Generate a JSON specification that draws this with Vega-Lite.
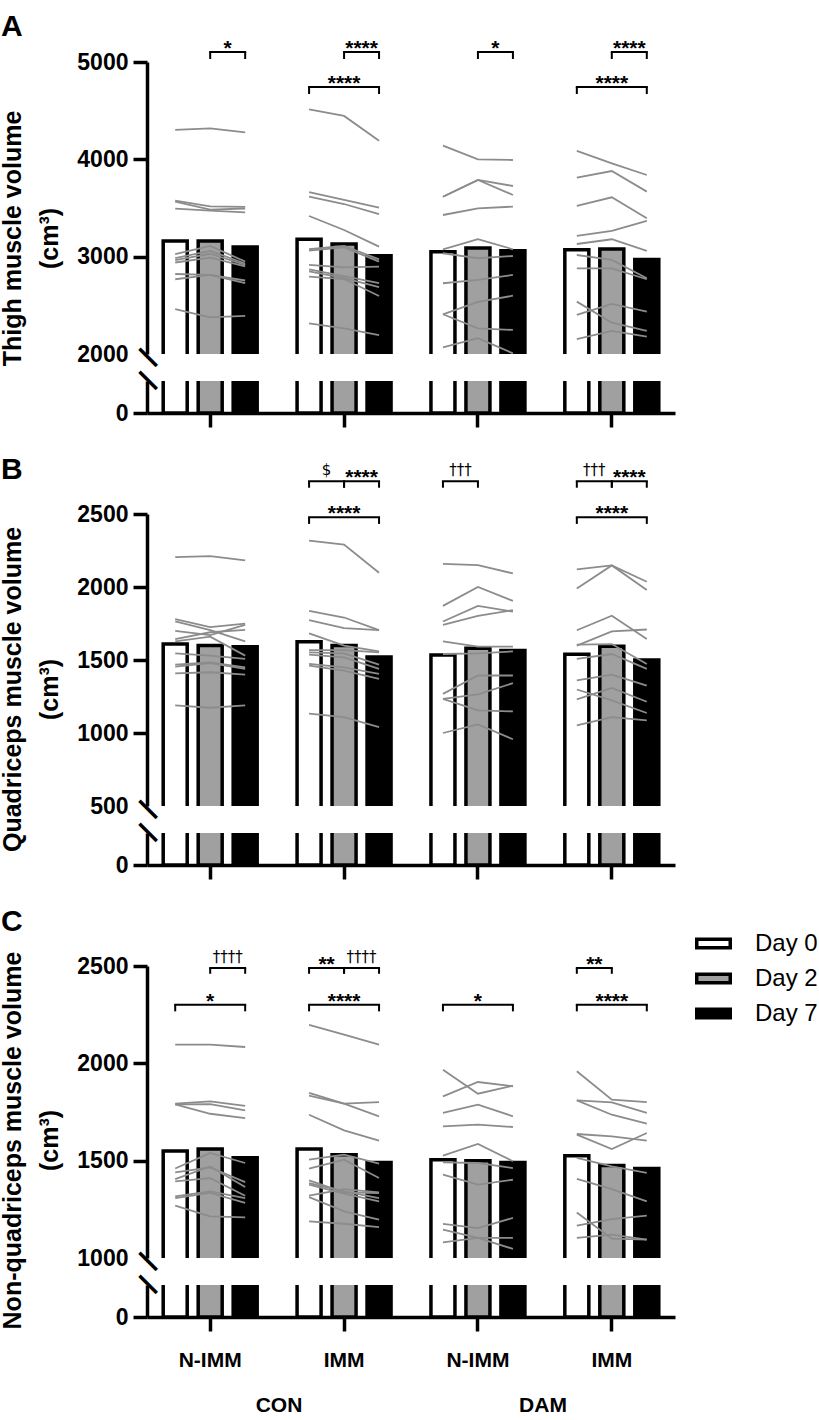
{
"$schema":"https://vega.github.io/schema/vega-lite/v6.json",
"autosize":{"type":"pad"},
"padding":{"left":0,"top":11,"right":2,"bottom":5},
"background":"white",
"config":{
 "view":{"stroke":null},
 "font":"Liberation Sans",
 "axis":{"domainColor":"black","domainWidth":3.5,"tickColor":"black","tickWidth":3.5,"tickSize":14,"labelColor":"black","labelFont":"Liberation Sans","labelFontWeight":"bold","labelFontSize":23,"labelPadding":5,"titleColor":"black","titleFont":"Liberation Sans","titleFontWeight":"bold","titleFontSize":25,"grid":false},
 "title":{"anchor":"start","frame":"group","fontSize":30,"fontWeight":"bold","color":"black","font":"Liberation Sans","dx":-146},
 "legend":{"orient":"none","legendX":548,"legendY":863,"title":null,"padding":0,"labelFont":"Liberation Sans","labelFontSize":24,"labelColor":"black","symbolType":"M-1,-0.254H1V0.254H-1Z","symbolSize":1122,"symbolStrokeColor":"black","symbolStrokeWidth":3.5,"rowPadding":4,"labelOffset":23}
},
"datasets":{
 "bars":[
  {"p":"A","g":"CON N-IMM","Day 0":3160,"Day 2":3160,"Day 7":3100},
  {"p":"A","g":"CON IMM","Day 0":3180,"Day 2":3130,"Day 7":3010},
  {"p":"A","g":"DAM N-IMM","Day 0":3050,"Day 2":3090,"Day 7":3060},
  {"p":"A","g":"DAM IMM","Day 0":3070,"Day 2":3080,"Day 7":2970},
  {"p":"B","g":"CON N-IMM","Day 0":1610,"Day 2":1600,"Day 7":1590},
  {"p":"B","g":"CON IMM","Day 0":1625,"Day 2":1600,"Day 7":1520},
  {"p":"B","g":"DAM N-IMM","Day 0":1535,"Day 2":1580,"Day 7":1565},
  {"p":"B","g":"DAM IMM","Day 0":1540,"Day 2":1595,"Day 7":1500},
  {"p":"C","g":"CON N-IMM","Day 0":1550,"Day 2":1560,"Day 7":1515},
  {"p":"C","g":"CON IMM","Day 0":1560,"Day 2":1530,"Day 7":1490},
  {"p":"C","g":"DAM N-IMM","Day 0":1505,"Day 2":1500,"Day 7":1490},
  {"p":"C","g":"DAM IMM","Day 0":1525,"Day 2":1475,"Day 7":1460}
 ],
 "lines":[
  {"p":"A","g":"CON N-IMM","s":1,"Day 0":4303,"Day 2":4318,"Day 7":4276},
  {"p":"A","g":"CON N-IMM","s":2,"Day 0":3576,"Day 2":3517,"Day 7":3511},
  {"p":"A","g":"CON N-IMM","s":3,"Day 0":3566,"Day 2":3483,"Day 7":3495},
  {"p":"A","g":"CON N-IMM","s":4,"Day 0":3493,"Day 2":3473,"Day 7":3456},
  {"p":"A","g":"CON N-IMM","s":5,"Day 0":3025,"Day 2":3110,"Day 7":2950},
  {"p":"A","g":"CON N-IMM","s":6,"Day 0":2985,"Day 2":3060,"Day 7":2930},
  {"p":"A","g":"CON N-IMM","s":7,"Day 0":2965,"Day 2":3030,"Day 7":2915},
  {"p":"A","g":"CON N-IMM","s":8,"Day 0":2940,"Day 2":2990,"Day 7":2900},
  {"p":"A","g":"CON N-IMM","s":9,"Day 0":2822,"Day 2":2812,"Day 7":2755},
  {"p":"A","g":"CON N-IMM","s":10,"Day 0":2768,"Day 2":2812,"Day 7":2727},
  {"p":"A","g":"CON N-IMM","s":11,"Day 0":2460,"Day 2":2377,"Day 7":2391},
  {"p":"A","g":"CON IMM","s":1,"Day 0":4514,"Day 2":4446,"Day 7":4192},
  {"p":"A","g":"CON IMM","s":2,"Day 0":3662,"Day 2":3583,"Day 7":3503},
  {"p":"A","g":"CON IMM","s":3,"Day 0":3616,"Day 2":3541,"Day 7":3436},
  {"p":"A","g":"CON IMM","s":4,"Day 0":3418,"Day 2":3274,"Day 7":3103},
  {"p":"A","g":"CON IMM","s":5,"Day 0":3076,"Day 2":3110,"Day 7":2973},
  {"p":"A","g":"CON IMM","s":6,"Day 0":3062,"Day 2":3096,"Day 7":2949},
  {"p":"A","g":"CON IMM","s":7,"Day 0":2915,"Day 2":2891,"Day 7":2897},
  {"p":"A","g":"CON IMM","s":8,"Day 0":2870,"Day 2":2800,"Day 7":2727},
  {"p":"A","g":"CON IMM","s":9,"Day 0":2850,"Day 2":2780,"Day 7":2686},
  {"p":"A","g":"CON IMM","s":10,"Day 0":2794,"Day 2":2770,"Day 7":2596},
  {"p":"A","g":"CON IMM","s":11,"Day 0":2315,"Day 2":2264,"Day 7":2195},
  {"p":"A","g":"DAM N-IMM","s":1,"Day 0":4140,"Day 2":4000,"Day 7":3993},
  {"p":"A","g":"DAM N-IMM","s":2,"Day 0":3616,"Day 2":3788,"Day 7":3726},
  {"p":"A","g":"DAM N-IMM","s":3,"Day 0":3616,"Day 2":3788,"Day 7":3634},
  {"p":"A","g":"DAM N-IMM","s":4,"Day 0":3428,"Day 2":3497,"Day 7":3514},
  {"p":"A","g":"DAM N-IMM","s":5,"Day 0":3076,"Day 2":3179,"Day 7":3076},
  {"p":"A","g":"DAM N-IMM","s":6,"Day 0":3035,"Day 2":2984,"Day 7":3007},
  {"p":"A","g":"DAM N-IMM","s":7,"Day 0":2727,"Day 2":2761,"Day 7":2812},
  {"p":"A","g":"DAM N-IMM","s":8,"Day 0":2408,"Day 2":2535,"Day 7":2599},
  {"p":"A","g":"DAM N-IMM","s":9,"Day 0":2408,"Day 2":2264,"Day 7":2247},
  {"p":"A","g":"DAM N-IMM","s":10,"Day 0":2069,"Day 2":2162,"Day 7":2007},
  {"p":"A","g":"DAM IMM","s":1,"Day 0":4086,"Day 2":3959,"Day 7":3839},
  {"p":"A","g":"DAM IMM","s":2,"Day 0":3812,"Day 2":3880,"Day 7":3668},
  {"p":"A","g":"DAM IMM","s":3,"Day 0":3521,"Day 2":3610,"Day 7":3394},
  {"p":"A","g":"DAM IMM","s":4,"Day 0":3213,"Day 2":3264,"Day 7":3367},
  {"p":"A","g":"DAM IMM","s":5,"Day 0":3130,"Day 2":3179,"Day 7":3059},
  {"p":"A","g":"DAM IMM","s":6,"Day 0":3017,"Day 2":2966,"Day 7":2778},
  {"p":"A","g":"DAM IMM","s":7,"Day 0":2880,"Day 2":2880,"Day 7":2768},
  {"p":"A","g":"DAM IMM","s":8,"Day 0":2538,"Day 2":2322,"Day 7":2237},
  {"p":"A","g":"DAM IMM","s":9,"Day 0":2401,"Day 2":2514,"Day 7":2435},
  {"p":"A","g":"DAM IMM","s":10,"Day 0":2154,"Day 2":2237,"Day 7":2178},
  {"p":"B","g":"CON N-IMM","s":1,"Day 0":2205,"Day 2":2212,"Day 7":2182},
  {"p":"B","g":"CON N-IMM","s":2,"Day 0":1780,"Day 2":1725,"Day 7":1749},
  {"p":"B","g":"CON N-IMM","s":3,"Day 0":1764,"Day 2":1705,"Day 7":1627},
  {"p":"B","g":"CON N-IMM","s":4,"Day 0":1700,"Day 2":1670,"Day 7":1740},
  {"p":"B","g":"CON N-IMM","s":5,"Day 0":1643,"Day 2":1690,"Day 7":1706},
  {"p":"B","g":"CON N-IMM","s":6,"Day 0":1627,"Day 2":1660,"Day 7":1530},
  {"p":"B","g":"CON N-IMM","s":7,"Day 0":1546,"Day 2":1530,"Day 7":1507},
  {"p":"B","g":"CON N-IMM","s":8,"Day 0":1469,"Day 2":1484,"Day 7":1450},
  {"p":"B","g":"CON N-IMM","s":9,"Day 0":1455,"Day 2":1478,"Day 7":1439},
  {"p":"B","g":"CON N-IMM","s":10,"Day 0":1409,"Day 2":1416,"Day 7":1400},
  {"p":"B","g":"CON N-IMM","s":11,"Day 0":1189,"Day 2":1173,"Day 7":1189},
  {"p":"B","g":"CON IMM","s":1,"Day 0":2318,"Day 2":2291,"Day 7":2098},
  {"p":"B","g":"CON IMM","s":2,"Day 0":1837,"Day 2":1791,"Day 7":1704},
  {"p":"B","g":"CON IMM","s":3,"Day 0":1773,"Day 2":1718,"Day 7":1704},
  {"p":"B","g":"CON IMM","s":4,"Day 0":1682,"Day 2":1598,"Day 7":1559},
  {"p":"B","g":"CON IMM","s":5,"Day 0":1568,"Day 2":1568,"Day 7":1552},
  {"p":"B","g":"CON IMM","s":6,"Day 0":1552,"Day 2":1545,"Day 7":1469},
  {"p":"B","g":"CON IMM","s":7,"Day 0":1537,"Day 2":1518,"Day 7":1439},
  {"p":"B","g":"CON IMM","s":8,"Day 0":1473,"Day 2":1450,"Day 7":1405},
  {"p":"B","g":"CON IMM","s":9,"Day 0":1462,"Day 2":1428,"Day 7":1371},
  {"p":"B","g":"CON IMM","s":10,"Day 0":1132,"Day 2":1109,"Day 7":1041},
  {"p":"B","g":"DAM N-IMM","s":1,"Day 0":2159,"Day 2":2150,"Day 7":2093},
  {"p":"B","g":"DAM N-IMM","s":2,"Day 0":1871,"Day 2":2000,"Day 7":1905},
  {"p":"B","g":"DAM N-IMM","s":3,"Day 0":1764,"Day 2":1871,"Day 7":1832},
  {"p":"B","g":"DAM N-IMM","s":4,"Day 0":1741,"Day 2":1803,"Day 7":1841},
  {"p":"B","g":"DAM N-IMM","s":5,"Day 0":1627,"Day 2":1591,"Day 7":1591},
  {"p":"B","g":"DAM N-IMM","s":6,"Day 0":1541,"Day 2":1546,"Day 7":1559},
  {"p":"B","g":"DAM N-IMM","s":7,"Day 0":1268,"Day 2":1394,"Day 7":1394},
  {"p":"B","g":"DAM N-IMM","s":8,"Day 0":1234,"Day 2":1264,"Day 7":1341},
  {"p":"B","g":"DAM N-IMM","s":9,"Day 0":1234,"Day 2":1155,"Day 7":1148},
  {"p":"B","g":"DAM N-IMM","s":10,"Day 0":1000,"Day 2":1059,"Day 7":957},
  {"p":"B","g":"DAM IMM","s":1,"Day 0":2120,"Day 2":2148,"Day 7":2036},
  {"p":"B","g":"DAM IMM","s":2,"Day 0":1989,"Day 2":2148,"Day 7":1980},
  {"p":"B","g":"DAM IMM","s":3,"Day 0":1704,"Day 2":1803,"Day 7":1643},
  {"p":"B","g":"DAM IMM","s":4,"Day 0":1598,"Day 2":1696,"Day 7":1709},
  {"p":"B","g":"DAM IMM","s":5,"Day 0":1605,"Day 2":1609,"Day 7":1473},
  {"p":"B","g":"DAM IMM","s":6,"Day 0":1507,"Day 2":1541,"Day 7":1439},
  {"p":"B","g":"DAM IMM","s":7,"Day 0":1360,"Day 2":1400,"Day 7":1325},
  {"p":"B","g":"DAM IMM","s":8,"Day 0":1298,"Day 2":1223,"Day 7":1137},
  {"p":"B","g":"DAM IMM","s":9,"Day 0":1230,"Day 2":1309,"Day 7":1214},
  {"p":"B","g":"DAM IMM","s":10,"Day 0":1053,"Day 2":1109,"Day 7":1087},
  {"p":"C","g":"CON N-IMM","s":1,"Day 0":2096,"Day 2":2096,"Day 7":2084},
  {"p":"C","g":"CON N-IMM","s":2,"Day 0":1793,"Day 2":1805,"Day 7":1782},
  {"p":"C","g":"CON N-IMM","s":3,"Day 0":1789,"Day 2":1790,"Day 7":1758},
  {"p":"C","g":"CON N-IMM","s":4,"Day 0":1789,"Day 2":1741,"Day 7":1719},
  {"p":"C","g":"CON N-IMM","s":5,"Day 0":1460,"Day 2":1540,"Day 7":1488},
  {"p":"C","g":"CON N-IMM","s":6,"Day 0":1440,"Day 2":1465,"Day 7":1390},
  {"p":"C","g":"CON N-IMM","s":7,"Day 0":1405,"Day 2":1470,"Day 7":1365},
  {"p":"C","g":"CON N-IMM","s":8,"Day 0":1394,"Day 2":1410,"Day 7":1320},
  {"p":"C","g":"CON N-IMM","s":9,"Day 0":1317,"Day 2":1342,"Day 7":1308},
  {"p":"C","g":"CON N-IMM","s":10,"Day 0":1308,"Day 2":1334,"Day 7":1283},
  {"p":"C","g":"CON N-IMM","s":11,"Day 0":1269,"Day 2":1214,"Day 7":1209},
  {"p":"C","g":"CON IMM","s":1,"Day 0":2198,"Day 2":2147,"Day 7":2096},
  {"p":"C","g":"CON IMM","s":2,"Day 0":1848,"Day 2":1793,"Day 7":1801},
  {"p":"C","g":"CON IMM","s":3,"Day 0":1834,"Day 2":1793,"Day 7":1728},
  {"p":"C","g":"CON IMM","s":4,"Day 0":1736,"Day 2":1656,"Day 7":1603},
  {"p":"C","g":"CON IMM","s":5,"Day 0":1505,"Day 2":1531,"Day 7":1485},
  {"p":"C","g":"CON IMM","s":6,"Day 0":1459,"Day 2":1505,"Day 7":1411},
  {"p":"C","g":"CON IMM","s":7,"Day 0":1399,"Day 2":1337,"Day 7":1334},
  {"p":"C","g":"CON IMM","s":8,"Day 0":1385,"Day 2":1342,"Day 7":1308},
  {"p":"C","g":"CON IMM","s":9,"Day 0":1377,"Day 2":1331,"Day 7":1291},
  {"p":"C","g":"CON IMM","s":10,"Day 0":1320,"Day 2":1354,"Day 7":1337},
  {"p":"C","g":"CON IMM","s":11,"Day 0":1313,"Day 2":1240,"Day 7":1197},
  {"p":"C","g":"CON IMM","s":12,"Day 0":1188,"Day 2":1176,"Day 7":1159},
  {"p":"C","g":"DAM N-IMM","s":1,"Day 0":1967,"Day 2":1844,"Day 7":1885},
  {"p":"C","g":"DAM N-IMM","s":2,"Day 0":1830,"Day 2":1904,"Day 7":1882},
  {"p":"C","g":"DAM N-IMM","s":3,"Day 0":1745,"Day 2":1788,"Day 7":1728},
  {"p":"C","g":"DAM N-IMM","s":4,"Day 0":1676,"Day 2":1685,"Day 7":1673},
  {"p":"C","g":"DAM N-IMM","s":5,"Day 0":1526,"Day 2":1586,"Day 7":1497},
  {"p":"C","g":"DAM N-IMM","s":6,"Day 0":1491,"Day 2":1488,"Day 7":1462},
  {"p":"C","g":"DAM N-IMM","s":7,"Day 0":1428,"Day 2":1377,"Day 7":1402},
  {"p":"C","g":"DAM N-IMM","s":8,"Day 0":1175,"Day 2":1154,"Day 7":1206},
  {"p":"C","g":"DAM N-IMM","s":9,"Day 0":1146,"Day 2":1103,"Day 7":1047},
  {"p":"C","g":"DAM N-IMM","s":10,"Day 0":1080,"Day 2":1103,"Day 7":1103},
  {"p":"C","g":"DAM IMM","s":1,"Day 0":1959,"Day 2":1813,"Day 7":1801},
  {"p":"C","g":"DAM IMM","s":2,"Day 0":1810,"Day 2":1799,"Day 7":1745},
  {"p":"C","g":"DAM IMM","s":3,"Day 0":1810,"Day 2":1736,"Day 7":1690},
  {"p":"C","g":"DAM IMM","s":4,"Day 0":1637,"Day 2":1625,"Day 7":1603},
  {"p":"C","g":"DAM IMM","s":5,"Day 0":1634,"Day 2":1560,"Day 7":1642},
  {"p":"C","g":"DAM IMM","s":6,"Day 0":1514,"Day 2":1471,"Day 7":1437},
  {"p":"C","g":"DAM IMM","s":7,"Day 0":1406,"Day 2":1354,"Day 7":1291},
  {"p":"C","g":"DAM IMM","s":8,"Day 0":1234,"Day 2":1099,"Day 7":1094},
  {"p":"C","g":"DAM IMM","s":9,"Day 0":1166,"Day 2":1200,"Day 7":1218},
  {"p":"C","g":"DAM IMM","s":10,"Day 0":1103,"Day 2":1120,"Day 7":1094}
 ],
 "sig":[
  {"p":"A","g":"CON N-IMM","from":"Day 2","to":"Day 7","v":5103,"t":5031,"lab":"*"},
  {"p":"A","g":"CON IMM","from":"Day 2","to":"Day 7","v":5103,"t":5031,"lab":"****"},
  {"p":"A","g":"CON IMM","from":"Day 0","to":"Day 7","v":4743,"t":4671,"lab":"****"},
  {"p":"A","g":"DAM N-IMM","from":"Day 2","to":"Day 7","v":5103,"t":5031,"lab":"*"},
  {"p":"A","g":"DAM IMM","from":"Day 2","to":"Day 7","v":5103,"t":5031,"lab":"****"},
  {"p":"A","g":"DAM IMM","from":"Day 0","to":"Day 7","v":4743,"t":4671,"lab":"****"},
  {"p":"B","g":"CON IMM","from":"Day 0","to":"Day 2","v":2725,"t":2680,"lab":"$"},
  {"p":"B","g":"CON IMM","from":"Day 2","to":"Day 7","v":2725,"t":2680,"lab":"****"},
  {"p":"B","g":"CON IMM","from":"Day 0","to":"Day 7","v":2477,"t":2432,"lab":"****"},
  {"p":"B","g":"DAM N-IMM","from":"Day 0","to":"Day 2","v":2725,"t":2680,"lab":"†††"},
  {"p":"B","g":"DAM IMM","from":"Day 0","to":"Day 2","v":2725,"t":2680,"lab":"†††"},
  {"p":"B","g":"DAM IMM","from":"Day 2","to":"Day 7","v":2725,"t":2680,"lab":"****"},
  {"p":"B","g":"DAM IMM","from":"Day 0","to":"Day 7","v":2477,"t":2432,"lab":"****"},
  {"p":"C","g":"CON N-IMM","from":"Day 2","to":"Day 7","v":2490,"t":2460,"lab":"††††"},
  {"p":"C","g":"CON N-IMM","from":"Day 0","to":"Day 7","v":2301,"t":2267,"lab":"*"},
  {"p":"C","g":"CON IMM","from":"Day 0","to":"Day 2","v":2490,"t":2460,"lab":"**"},
  {"p":"C","g":"CON IMM","from":"Day 2","to":"Day 7","v":2490,"t":2460,"lab":"††††"},
  {"p":"C","g":"CON IMM","from":"Day 0","to":"Day 7","v":2301,"t":2267,"lab":"****"},
  {"p":"C","g":"DAM N-IMM","from":"Day 0","to":"Day 7","v":2301,"t":2267,"lab":"*"},
  {"p":"C","g":"DAM IMM","from":"Day 0","to":"Day 2","v":2490,"t":2460,"lab":"**"},
  {"p":"C","g":"DAM IMM","from":"Day 0","to":"Day 7","v":2301,"t":2267,"lab":"****"}
 ]
},
"spacing":26,
"vconcat":[
 {"spacing":27,"bounds":"flush","vconcat":[
  {"title":{"text":"A","offset":-4},"width":528,"height":292,"resolve":{"axis":{"y":"independent"}},"layer":[
   {"data":{"name":"bars"},"transform":[{"filter":"datum.p=='A'"},{"fold":["Day 0","Day 2","Day 7"],"as":["day","v"]}],
    "mark":{"type":"bar","clip":true,"stroke":"black","strokeWidth":3.5},
    "encoding":{
     "x":{"field":"g","type":"nominal","sort":["CON N-IMM","CON IMM","DAM N-IMM","DAM IMM"],"scale":{"paddingInner":0.216,"paddingOuter":0.08},"axis":null},
     "xOffset":{"field":"day","type":"nominal","sort":["Day 0","Day 2","Day 7"],"scale":{"paddingInner":0.314,"paddingOuter":0.157}},
     "y":{"field":"v","type":"quantitative","scale":{"domain":[2000,5000],"nice":false,"zero":false},"axis":{"values":[2000,3000,4000,5000],"format":"d","title":["Thigh muscle volume","(cm³)"],"titleY":176,"titleLineHeight":37,"titlePadding":14,"tickOpacity":{"condition":{"test":"datum.value==2000","value":0},"value":1}}},
     "y2":{"datum":0},
     "fill":{"field":"day","type":"nominal","scale":{"domain":["Day 0","Day 2","Day 7"],"range":["white","#a0a0a0","black"]}}
    }},
   {"data":{"name":"lines"},"transform":[{"filter":"datum.p=='A'"},{"fold":["Day 0","Day 2","Day 7"],"as":["day","v"]}],
    "mark":{"type":"line","color":"#8c8c8c","strokeWidth":1.8},
    "encoding":{"x":{"field":"g","type":"nominal","sort":["CON N-IMM","CON IMM","DAM N-IMM","DAM IMM"]},"xOffset":{"field":"day","type":"nominal","sort":["Day 0","Day 2","Day 7"]},"y":{"field":"v","type":"quantitative","axis":{"orient":"left","values":[2000],"labelExpr":"'━━'","labelOffset":3.5,"ticks":false,"domain":false,"title":null,"labelFont":"DejaVu Sans Mono","labelFontWeight":"normal","labelFontSize":20,"labelAngle":45,"labelAlign":"center","labelBaseline":"middle","labelPadding":0,"labelBound":false,"labelOverlap":false,"labelFlush":false}},"detail":[{"field":"g"},{"field":"s"}],"order":{"field":"day","type":"ordinal"}}},
   {"data":{"name":"sig"},"transform":[{"filter":"datum.p=='A'"},{"fold":["from","to"],"as":["end","day"]}],
    "mark":{"type":"line","color":"black","strokeWidth":2,"strokeCap":"square"},
    "encoding":{"x":{"field":"g","type":"nominal","sort":["CON N-IMM","CON IMM","DAM N-IMM","DAM IMM"]},"xOffset":{"field":"day","type":"nominal","sort":["Day 0","Day 2","Day 7"]},"y":{"field":"v","type":"quantitative","axis":null},"detail":[{"field":"g"},{"field":"from"},{"field":"to"}],"order":{"field":"day","type":"ordinal"}}},
   {"data":{"name":"sig"},"transform":[{"filter":"datum.p=='A'"},{"fold":["from","to"],"as":["end","day"]}],
    "mark":{"type":"rule","color":"black","strokeWidth":2},
    "encoding":{"x":{"field":"g","type":"nominal","sort":["CON N-IMM","CON IMM","DAM N-IMM","DAM IMM"]},"xOffset":{"field":"day","type":"nominal","sort":["Day 0","Day 2","Day 7"]},"y":{"field":"v","type":"quantitative","axis":null},"y2":{"field":"t"}}},
   {"data":{"name":"sig"},"transform":[{"filter":"datum.p=='A' && datum.from=='Day 0' && datum.to=='Day 7'"}],
    "mark":{"type":"text","fontSize":21,"fontWeight":"bold","baseline":"alphabetic","dy":3,"color":"black"},
    "encoding":{"x":{"field":"g","type":"nominal","sort":["CON N-IMM","CON IMM","DAM N-IMM","DAM IMM"]},"xOffset":{"datum":"Day 2"},"y":{"field":"v","type":"quantitative","axis":null},"text":{"field":"lab"}}},
   {"data":{"name":"sig"},"transform":[{"filter":"datum.p=='A' && !(datum.from=='Day 0' && datum.to=='Day 7') && indexof(datum.lab,'*')>=0"}],
    "mark":{"type":"text","fontSize":21,"fontWeight":"bold","baseline":"alphabetic","dy":3,"dx":17.5,"color":"black"},
    "encoding":{"x":{"field":"g","type":"nominal","sort":["CON N-IMM","CON IMM","DAM N-IMM","DAM IMM"]},"xOffset":{"field":"from","type":"nominal","sort":["Day 0","Day 2","Day 7"]},"y":{"field":"v","type":"quantitative","axis":null},"text":{"field":"lab"}}}
  ]},
  {"width":528,"height":32,"resolve":{"axis":{"y":"independent"}},"layer":[
   {"data":{"name":"bars"},"transform":[{"filter":"datum.p=='A'"},{"fold":["Day 0","Day 2","Day 7"],"as":["day","v"]}],
    "mark":{"type":"bar","clip":true,"stroke":"black","strokeWidth":3.5},
    "encoding":{
     "x":{"field":"g","type":"nominal","sort":["CON N-IMM","CON IMM","DAM N-IMM","DAM IMM"],"scale":{"paddingInner":0.216,"paddingOuter":0.08},"axis":{"labels":false,"title":null}},
     "xOffset":{"field":"day","type":"nominal","sort":["Day 0","Day 2","Day 7"],"scale":{"paddingInner":0.314,"paddingOuter":0.157}},
     "y":{"field":"v","type":"quantitative","scale":{"domain":[0,300],"nice":false},"axis":{"values":[0],"format":"d","title":null}},
     "fill":{"field":"day","type":"nominal","scale":{"domain":["Day 0","Day 2","Day 7"],"range":["white","#a0a0a0","black"]}}
    }},
   {"data":{"name":"bars"},"transform":[{"filter":"datum.p=='A'"},{"fold":["Day 0","Day 2","Day 7"],"as":["day","v"]}],
    "mark":{"type":"tick","opacity":0},
    "encoding":{"y":{"field":"v","type":"quantitative","scale":{"domain":[0,300],"nice":false},"axis":{"orient":"left","values":[300],"labelExpr":"'━━'","labelOffset":-0.5,"ticks":false,"domain":false,"title":null,"labelFont":"DejaVu Sans Mono","labelFontWeight":"normal","labelFontSize":20,"labelAngle":45,"labelAlign":"center","labelBaseline":"middle","labelPadding":0,"labelBound":false,"labelOverlap":false,"labelFlush":false}}}}
  ]}
 ]},
 {"spacing":27,"bounds":"flush","vconcat":[
  {"title":{"text":"B","offset":-22},"width":528,"height":292,"resolve":{"axis":{"y":"independent"}},"layer":[
   {"data":{"name":"bars"},"transform":[{"filter":"datum.p=='B'"},{"fold":["Day 0","Day 2","Day 7"],"as":["day","v"]}],
    "mark":{"type":"bar","clip":true,"stroke":"black","strokeWidth":3.5},
    "encoding":{
     "x":{"field":"g","type":"nominal","sort":["CON N-IMM","CON IMM","DAM N-IMM","DAM IMM"],"scale":{"paddingInner":0.216,"paddingOuter":0.08},"axis":null},
     "xOffset":{"field":"day","type":"nominal","sort":["Day 0","Day 2","Day 7"],"scale":{"paddingInner":0.314,"paddingOuter":0.157}},
     "y":{"field":"v","type":"quantitative","scale":{"domain":[500,2500],"nice":false,"zero":false},"axis":{"values":[500,1000,1500,2000,2500],"format":"d","title":["Quadriceps muscle volume","(cm³)"],"titleY":175,"titleLineHeight":37,"titlePadding":14,"tickOpacity":{"condition":{"test":"datum.value==500","value":0},"value":1}}},
     "y2":{"datum":0},
     "fill":{"field":"day","type":"nominal","scale":{"domain":["Day 0","Day 2","Day 7"],"range":["white","#a0a0a0","black"]}}
    }},
   {"data":{"name":"lines"},"transform":[{"filter":"datum.p=='B'"},{"fold":["Day 0","Day 2","Day 7"],"as":["day","v"]}],
    "mark":{"type":"line","color":"#8c8c8c","strokeWidth":1.8},
    "encoding":{"x":{"field":"g","type":"nominal","sort":["CON N-IMM","CON IMM","DAM N-IMM","DAM IMM"]},"xOffset":{"field":"day","type":"nominal","sort":["Day 0","Day 2","Day 7"]},"y":{"field":"v","type":"quantitative","axis":{"orient":"left","values":[500],"labelExpr":"'━━'","labelOffset":3.5,"ticks":false,"domain":false,"title":null,"labelFont":"DejaVu Sans Mono","labelFontWeight":"normal","labelFontSize":20,"labelAngle":45,"labelAlign":"center","labelBaseline":"middle","labelPadding":0,"labelBound":false,"labelOverlap":false,"labelFlush":false}},"detail":[{"field":"g"},{"field":"s"}],"order":{"field":"day","type":"ordinal"}}},
   {"data":{"name":"sig"},"transform":[{"filter":"datum.p=='B'"},{"fold":["from","to"],"as":["end","day"]}],
    "mark":{"type":"line","color":"black","strokeWidth":2,"strokeCap":"square"},
    "encoding":{"x":{"field":"g","type":"nominal","sort":["CON N-IMM","CON IMM","DAM N-IMM","DAM IMM"]},"xOffset":{"field":"day","type":"nominal","sort":["Day 0","Day 2","Day 7"]},"y":{"field":"v","type":"quantitative","axis":null},"detail":[{"field":"g"},{"field":"from"},{"field":"to"}],"order":{"field":"day","type":"ordinal"}}},
   {"data":{"name":"sig"},"transform":[{"filter":"datum.p=='B'"},{"fold":["from","to"],"as":["end","day"]}],
    "mark":{"type":"rule","color":"black","strokeWidth":2},
    "encoding":{"x":{"field":"g","type":"nominal","sort":["CON N-IMM","CON IMM","DAM N-IMM","DAM IMM"]},"xOffset":{"field":"day","type":"nominal","sort":["Day 0","Day 2","Day 7"]},"y":{"field":"v","type":"quantitative","axis":null},"y2":{"field":"t"}}},
   {"data":{"name":"sig"},"transform":[{"filter":"datum.p=='B' && datum.from=='Day 0' && datum.to=='Day 7'"}],
    "mark":{"type":"text","fontSize":21,"fontWeight":"bold","baseline":"alphabetic","dy":3,"color":"black"},
    "encoding":{"x":{"field":"g","type":"nominal","sort":["CON N-IMM","CON IMM","DAM N-IMM","DAM IMM"]},"xOffset":{"datum":"Day 2"},"y":{"field":"v","type":"quantitative","axis":null},"text":{"field":"lab"}}},
   {"data":{"name":"sig"},"transform":[{"filter":"datum.p=='B' && !(datum.from=='Day 0' && datum.to=='Day 7') && indexof(datum.lab,'*')>=0"}],
    "mark":{"type":"text","fontSize":21,"fontWeight":"bold","baseline":"alphabetic","dy":3,"dx":17.5,"color":"black"},
    "encoding":{"x":{"field":"g","type":"nominal","sort":["CON N-IMM","CON IMM","DAM N-IMM","DAM IMM"]},"xOffset":{"field":"from","type":"nominal","sort":["Day 0","Day 2","Day 7"]},"y":{"field":"v","type":"quantitative","axis":null},"text":{"field":"lab"}}},
   {"data":{"name":"sig"},"transform":[{"filter":"datum.p=='B' && indexof(datum.lab,'*')<0"}],
    "mark":{"type":"text","fontSize":15,"font":"DejaVu Sans","baseline":"alphabetic","dy":-6,"dx":17.5,"color":"black"},
    "encoding":{"x":{"field":"g","type":"nominal","sort":["CON N-IMM","CON IMM","DAM N-IMM","DAM IMM"]},"xOffset":{"field":"from","type":"nominal","sort":["Day 0","Day 2","Day 7"]},"y":{"field":"v","type":"quantitative","axis":null},"text":{"field":"lab"}}}
  ]},
  {"width":528,"height":32,"resolve":{"axis":{"y":"independent"}},"layer":[
   {"data":{"name":"bars"},"transform":[{"filter":"datum.p=='B'"},{"fold":["Day 0","Day 2","Day 7"],"as":["day","v"]}],
    "mark":{"type":"bar","clip":true,"stroke":"black","strokeWidth":3.5},
    "encoding":{
     "x":{"field":"g","type":"nominal","sort":["CON N-IMM","CON IMM","DAM N-IMM","DAM IMM"],"scale":{"paddingInner":0.216,"paddingOuter":0.08},"axis":{"labels":false,"title":null}},
     "xOffset":{"field":"day","type":"nominal","sort":["Day 0","Day 2","Day 7"],"scale":{"paddingInner":0.314,"paddingOuter":0.157}},
     "y":{"field":"v","type":"quantitative","scale":{"domain":[0,300],"nice":false},"axis":{"values":[0],"format":"d","title":null}},
     "fill":{"field":"day","type":"nominal","scale":{"domain":["Day 0","Day 2","Day 7"],"range":["white","#a0a0a0","black"]}}
    }},
   {"data":{"name":"bars"},"transform":[{"filter":"datum.p=='B'"},{"fold":["Day 0","Day 2","Day 7"],"as":["day","v"]}],
    "mark":{"type":"tick","opacity":0},
    "encoding":{"y":{"field":"v","type":"quantitative","scale":{"domain":[0,300],"nice":false},"axis":{"orient":"left","values":[300],"labelExpr":"'━━'","labelOffset":-0.5,"ticks":false,"domain":false,"title":null,"labelFont":"DejaVu Sans Mono","labelFontWeight":"normal","labelFontSize":20,"labelAngle":45,"labelAlign":"center","labelBaseline":"middle","labelPadding":0,"labelBound":false,"labelOverlap":false,"labelFlush":false}}}}
  ]}
 ]},
 {"spacing":27,"bounds":"flush","vconcat":[
  {"title":{"text":"C","offset":12.5},"width":528,"height":292,"resolve":{"axis":{"y":"independent"}},"layer":[
   {"data":{"name":"bars"},"transform":[{"filter":"datum.p=='C'"},{"fold":["Day 0","Day 2","Day 7"],"as":["day","v"]}],
    "mark":{"type":"bar","clip":true,"stroke":"black","strokeWidth":3.5},
    "encoding":{
     "x":{"field":"g","type":"nominal","sort":["CON N-IMM","CON IMM","DAM N-IMM","DAM IMM"],"scale":{"paddingInner":0.216,"paddingOuter":0.08},"axis":null},
     "xOffset":{"field":"day","type":"nominal","sort":["Day 0","Day 2","Day 7"],"scale":{"paddingInner":0.314,"paddingOuter":0.157}},
     "y":{"field":"v","type":"quantitative","scale":{"domain":[1000,2500],"nice":false,"zero":false},"axis":{"values":[1000,1500,2000,2500],"format":"d","title":["Non-quadriceps muscle volume","(cm³)"],"titleY":174,"titleLineHeight":37,"titlePadding":14,"tickOpacity":{"condition":{"test":"datum.value==1000","value":0},"value":1}}},
     "y2":{"datum":0},
     "fill":{"field":"day","type":"nominal","scale":{"domain":["Day 0","Day 2","Day 7"],"range":["white","#a0a0a0","black"]}}
    }},
   {"data":{"name":"lines"},"transform":[{"filter":"datum.p=='C'"},{"fold":["Day 0","Day 2","Day 7"],"as":["day","v"]}],
    "mark":{"type":"line","color":"#8c8c8c","strokeWidth":1.8},
    "encoding":{"x":{"field":"g","type":"nominal","sort":["CON N-IMM","CON IMM","DAM N-IMM","DAM IMM"]},"xOffset":{"field":"day","type":"nominal","sort":["Day 0","Day 2","Day 7"]},"y":{"field":"v","type":"quantitative","axis":{"orient":"left","values":[1000],"labelExpr":"'━━'","labelOffset":3.5,"ticks":false,"domain":false,"title":null,"labelFont":"DejaVu Sans Mono","labelFontWeight":"normal","labelFontSize":20,"labelAngle":45,"labelAlign":"center","labelBaseline":"middle","labelPadding":0,"labelBound":false,"labelOverlap":false,"labelFlush":false}},"detail":[{"field":"g"},{"field":"s"}],"order":{"field":"day","type":"ordinal"}}},
   {"data":{"name":"sig"},"transform":[{"filter":"datum.p=='C'"},{"fold":["from","to"],"as":["end","day"]}],
    "mark":{"type":"line","color":"black","strokeWidth":2,"strokeCap":"square"},
    "encoding":{"x":{"field":"g","type":"nominal","sort":["CON N-IMM","CON IMM","DAM N-IMM","DAM IMM"]},"xOffset":{"field":"day","type":"nominal","sort":["Day 0","Day 2","Day 7"]},"y":{"field":"v","type":"quantitative","axis":null},"detail":[{"field":"g"},{"field":"from"},{"field":"to"}],"order":{"field":"day","type":"ordinal"}}},
   {"data":{"name":"sig"},"transform":[{"filter":"datum.p=='C'"},{"fold":["from","to"],"as":["end","day"]}],
    "mark":{"type":"rule","color":"black","strokeWidth":2},
    "encoding":{"x":{"field":"g","type":"nominal","sort":["CON N-IMM","CON IMM","DAM N-IMM","DAM IMM"]},"xOffset":{"field":"day","type":"nominal","sort":["Day 0","Day 2","Day 7"]},"y":{"field":"v","type":"quantitative","axis":null},"y2":{"field":"t"}}},
   {"data":{"name":"sig"},"transform":[{"filter":"datum.p=='C' && datum.from=='Day 0' && datum.to=='Day 7'"}],
    "mark":{"type":"text","fontSize":21,"fontWeight":"bold","baseline":"alphabetic","dy":3,"color":"black"},
    "encoding":{"x":{"field":"g","type":"nominal","sort":["CON N-IMM","CON IMM","DAM N-IMM","DAM IMM"]},"xOffset":{"datum":"Day 2"},"y":{"field":"v","type":"quantitative","axis":null},"text":{"field":"lab"}}},
   {"data":{"name":"sig"},"transform":[{"filter":"datum.p=='C' && !(datum.from=='Day 0' && datum.to=='Day 7') && indexof(datum.lab,'*')>=0"}],
    "mark":{"type":"text","fontSize":21,"fontWeight":"bold","baseline":"alphabetic","dy":3,"dx":17.5,"color":"black"},
    "encoding":{"x":{"field":"g","type":"nominal","sort":["CON N-IMM","CON IMM","DAM N-IMM","DAM IMM"]},"xOffset":{"field":"from","type":"nominal","sort":["Day 0","Day 2","Day 7"]},"y":{"field":"v","type":"quantitative","axis":null},"text":{"field":"lab"}}},
   {"data":{"name":"sig"},"transform":[{"filter":"datum.p=='C' && indexof(datum.lab,'*')<0"}],
    "mark":{"type":"text","fontSize":15,"font":"DejaVu Sans","baseline":"alphabetic","dy":-6,"dx":17.5,"color":"black"},
    "encoding":{"x":{"field":"g","type":"nominal","sort":["CON N-IMM","CON IMM","DAM N-IMM","DAM IMM"]},"xOffset":{"field":"from","type":"nominal","sort":["Day 0","Day 2","Day 7"]},"y":{"field":"v","type":"quantitative","axis":null},"text":{"field":"lab"}}}
  ]},
  {"width":528,"height":32,"resolve":{"scale":{"x":"independent"},"axis":{"y":"independent"}},"layer":[
   {"data":{"name":"bars"},"transform":[{"filter":"datum.p=='C'"},{"fold":["Day 0","Day 2","Day 7"],"as":["day","v"]}],
    "mark":{"type":"bar","clip":true,"stroke":"black","strokeWidth":3.5},
    "encoding":{
     "x":{"field":"g","type":"nominal","sort":["CON N-IMM","CON IMM","DAM N-IMM","DAM IMM"],"scale":{"paddingInner":0.216,"paddingOuter":0.08},"axis":{"title":null,"labelExpr":"slice(datum.label,4)","labelFontSize":21,"labelPadding":18,"labelAngle":0}},
     "xOffset":{"field":"day","type":"nominal","sort":["Day 0","Day 2","Day 7"],"scale":{"paddingInner":0.314,"paddingOuter":0.157}},
     "y":{"field":"v","type":"quantitative","scale":{"domain":[0,300],"nice":false},"axis":{"values":[0],"format":"d","title":null}},
     "fill":{"field":"day","type":"nominal","scale":{"domain":["Day 0","Day 2","Day 7"],"range":["white","#a0a0a0","black"]},"legend":{"orient":"none"}}
    }},
   {"data":{"values":[{"c":"CON"},{"c":"DAM"}]},
    "mark":{"type":"tick","opacity":0},
    "encoding":{"x":{"field":"c","type":"nominal","scale":{"paddingInner":0,"paddingOuter":0},"axis":{"orient":"bottom","title":null,"ticks":false,"domain":false,"labelPadding":77,"labelFontSize":21,"labelAngle":0}}}},
   {"data":{"name":"bars"},"transform":[{"filter":"datum.p=='C'"},{"fold":["Day 0","Day 2","Day 7"],"as":["day","v"]}],
    "mark":{"type":"tick","opacity":0},
    "encoding":{"y":{"field":"v","type":"quantitative","scale":{"domain":[0,300],"nice":false},"axis":{"orient":"left","values":[300],"labelExpr":"'━━'","labelOffset":-0.5,"ticks":false,"domain":false,"title":null,"labelFont":"DejaVu Sans Mono","labelFontWeight":"normal","labelFontSize":20,"labelAngle":45,"labelAlign":"center","labelBaseline":"middle","labelPadding":0,"labelBound":false,"labelOverlap":false,"labelFlush":false}}}}
  ]}
 ]}
]
}
